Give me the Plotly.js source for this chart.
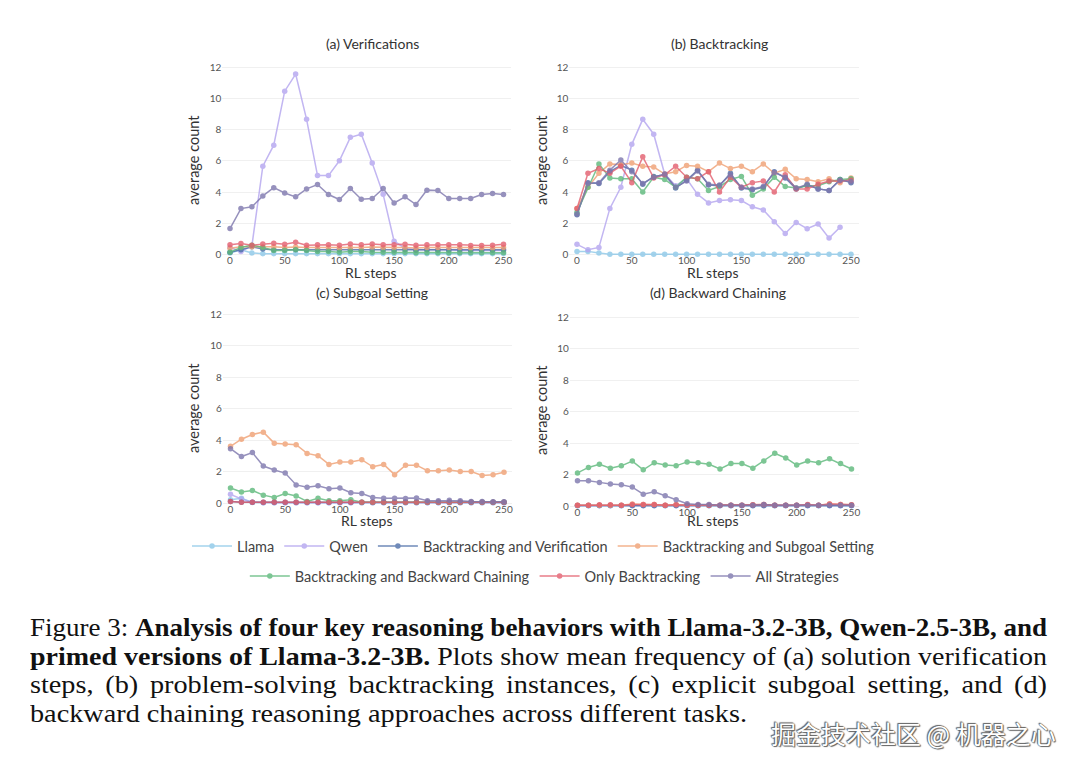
<!DOCTYPE html>
<html>
<head>
<meta charset="utf-8">
<script src="https://cdn.plot.ly/plotly-3.0.1.min.js"></script>
<style>
  html, body { margin: 0; padding: 0; background: #fff; }
  #wrap { position: relative; width: 1080px; height: 766px; overflow: hidden; }
  #chart { position: absolute; left: 0; top: 0; width: 1080px; height: 766px; }
  #caption { position: absolute; left: 30px; top: 614px; font-family: "Liberation Serif", serif; font-size: 25px; color: #111; }
  #caption .ln { position: relative; height: 28.5px; line-height: 28.5px; white-space: nowrap; }
  #caption .ln span { display: inline-block; transform-origin: 0 50%; white-space: nowrap; }
  #caption b { font-weight: bold; }
  #wm { position: absolute; left: 771px; top: 715px; font-family: "Noto Sans CJK SC", sans-serif; font-size: 25px; color: #fff; white-space: nowrap;
        text-shadow: 0 0 1px #555, 0 0 1px #555, 1px 1px 1px #666, -1px -1px 1px #666; }
</style>
</head>
<body>
<div id="wrap">
  <div id="chart"></div>
  <div id="caption">
    <div class="ln" data-w="1017"><span>Figure 3: <b>Analysis of four key reasoning behaviors with Llama-3.2-3B, Qwen-2.5-3B, and</b></span></div>
    <div class="ln" data-w="1017"><span><b>primed versions of Llama-3.2-3B.</b> Plots show mean frequency of (a) solution verification</span></div>
    <div class="ln" data-w="1017"><span>steps, (b) problem-solving backtracking instances, (c) explicit subgoal setting, and (d)</span></div>
    <div class="ln" data-w="717"><span>backward chaining reasoning approaches across different tasks.</span></div>
  </div>
  <div id="wm">掘金技术社区 @ 机器之心</div>
</div>
<script>
// ---------------- DATA ----------------
const steps = [0,10,20,30,40,50,60,70,80,90,100,110,120,130,140,150,160,170,180,190,200,210,220,230,240,250];

const seriesNames = ["Llama","Qwen","Backtracking and Verification","Backtracking and Subgoal Setting",
                     "Backtracking and Backward Chaining","Only Backtracking","All Strategies"];
const seriesColors = ["#8cc8e8","#b3a4ef","#4d6ea8","#f0a073","#5cb87a","#e35d6d","#7d76ad"];

const panelTitles = ["(a) Verifications","(b) Backtracking","(c) Subgoal Setting","(d) Backward Chaining"];
const xAxisLabel = "RL steps";
const yAxisLabel = "average count";
const yTickVals = [0,2,4,6,8,10,12];
const xTickVals = [0,50,100,150,200,250];

// (a) Verifications
const verif_llama = [0.1,0.3,0.1,0.05,0.05,0.05,0.05,0.05,0.05,0.05,0.05,0.05,0.05,0.05,0.05,0.05,0.05,0.05,0.05,0.05,0.05,0.05,0.05,0.05,0.05,0.05];
const verif_qwen  = [0.45,0.2,0.55,5.65,7.0,10.45,11.55,8.65,5.05,5.05,6.0,7.5,7.7,5.85,3.85,0.85,0.4,0.3,0.3,0.3,0.3,0.25,0.25,0.25,0.25,0.25];
const verif_bv    = [0.15,0.3,0.5,0.35,0.3,0.3,0.32,0.3,0.3,0.28,0.3,0.3,0.28,0.3,0.3,0.28,0.3,0.28,0.3,0.28,0.28,0.3,0.28,0.28,0.28,0.3];
const verif_bs    = [0.4,0.5,0.5,0.5,0.5,0.45,0.48,0.45,0.45,0.45,0.42,0.45,0.45,0.48,0.45,0.45,0.45,0.42,0.45,0.45,0.45,0.45,0.42,0.42,0.42,0.45];
const verif_bbc   = [0.15,0.45,0.6,0.45,0.25,0.25,0.3,0.25,0.2,0.2,0.15,0.2,0.2,0.15,0.15,0.15,0.15,0.12,0.12,0.12,0.12,0.12,0.12,0.12,0.12,0.12];
const verif_ob    = [0.62,0.7,0.6,0.68,0.72,0.65,0.78,0.6,0.62,0.62,0.6,0.68,0.62,0.68,0.62,0.62,0.65,0.6,0.62,0.62,0.62,0.62,0.58,0.58,0.6,0.65];
const verif_all   = [1.66,2.94,3.05,3.75,4.28,3.94,3.69,4.2,4.48,3.84,3.52,4.22,3.54,3.58,4.22,3.3,3.69,3.2,4.12,4.1,3.58,3.58,3.58,3.84,3.9,3.84];

// (b) Backtracking
const back_llama = [0.2,0.2,0.1,0.02,0.02,0.02,0.02,0.02,0.02,0.02,0.02,0.02,0.02,0.02,0.02,0.02,0.02,0.02,0.02,0.02,0.02,0.02,0.02,0.02,0.02,0.02];
const back_qwen  = [0.65,0.3,0.45,2.95,4.3,7.05,8.65,7.7,5.15,4.4,4.85,3.85,3.3,3.45,3.5,3.45,3.05,2.85,2.1,1.35,2.05,1.65,1.95,1.05,1.75,null];
const back_bv    = [2.55,4.6,4.55,5.3,5.7,5.4,4.5,5.0,5.1,4.25,4.75,5.4,4.45,4.4,5.2,4.25,4.15,4.3,5.3,4.9,4.2,4.45,4.2,4.1,4.8,4.6];
const back_bs    = [2.95,4.3,5.2,5.8,5.75,5.85,5.65,5.6,5.15,5.3,5.7,5.65,5.3,5.85,5.5,5.65,5.3,5.8,5.2,5.45,4.85,4.8,4.65,4.85,4.6,4.9];
const back_bbc   = [2.7,4.3,5.8,4.9,4.85,4.85,4.0,4.95,4.8,4.3,4.95,4.85,4.1,4.35,4.8,5.0,3.8,4.2,4.95,4.35,4.25,4.4,4.4,4.65,4.8,4.85];
const back_ob    = [2.95,5.2,5.5,5.2,5.65,4.6,6.25,4.9,5.1,5.65,4.95,4.85,5.3,4.0,4.95,4.3,4.6,4.7,4.0,5.1,4.2,4.2,4.5,4.7,4.7,4.75];
const back_all   = [2.6,4.55,4.6,5.4,6.05,5.3,4.55,4.95,5.15,4.3,4.7,5.35,4.5,4.45,5.1,4.3,4.2,4.35,5.25,4.95,4.25,4.5,4.2,4.1,4.75,4.65];

// (c) Subgoal Setting
const sub_llama = [0.2,0.3,0.03,0.02,0.02,0.02,0.02,0.02,0.02,0.02,0.02,0.02,0.02,0.02,0.02,0.02,0.02,0.02,0.02,0.02,0.02,0.02,0.02,0.02,0.02,0.02];
const sub_qwen  = [0.55,0.25,0.05,0.02,0.02,0.02,0.02,0.02,0.02,0.02,0.02,0.02,0.02,0.02,0.02,0.02,0.02,0.02,0.02,0.02,0.02,0.02,0.02,0.02,0.02,0.02];
const sub_bv    = [0.1,0.05,0.05,0.05,0.05,0.05,0.05,0.05,0.05,0.05,0.05,0.05,0.05,0.05,0.05,0.05,0.05,0.05,0.05,0.05,0.05,0.05,0.05,0.05,0.05,0.05];
const sub_bs    = [3.6,4.05,4.35,4.5,3.8,3.75,3.7,3.15,3.0,2.45,2.6,2.6,2.75,2.3,2.45,1.8,2.4,2.4,2.05,2.05,2.1,2.0,2.0,1.75,1.8,1.95];
const sub_bbc   = [0.95,0.7,0.8,0.5,0.35,0.6,0.45,0.1,0.3,0.15,0.15,0.2,0.05,0.05,0.05,0.05,0.05,0.05,0.05,0.05,0.05,0.05,0.05,0.05,0.05,0.05];
const sub_ob    = [0.1,0.05,0.05,0.05,0.05,0.05,0.05,0.05,0.05,0.05,0.05,0.05,0.05,0.05,0.05,0.05,0.05,0.05,0.05,0.05,0.05,0.05,0.05,0.05,0.05,0.05];
const sub_all   = [3.45,2.95,3.2,2.35,2.1,1.9,1.15,1.0,1.1,0.9,0.95,0.65,0.6,0.35,0.3,0.3,0.28,0.32,0.15,0.15,0.18,0.15,0.1,0.1,0.08,0.08];

// (d) Backward Chaining
const bc_llama = [0.02,0.02,0.02,0.02,0.02,0.02,0.02,0.02,0.02,0.02,0.02,0.02,0.02,0.02,0.02,0.02,0.02,0.02,0.02,0.02,0.02,0.02,0.02,0.02,0.02,0.02];
const bc_qwen  = [0.03,0.03,0.03,0.03,0.03,0.03,0.03,0.03,0.03,0.03,0.03,0.03,0.03,0.03,0.03,0.03,0.03,0.03,0.03,0.03,0.03,0.03,0.03,0.03,0.03,0.03];
const bc_bv    = [0.03,0.03,0.03,0.03,0.03,0.03,0.03,0.03,0.03,0.03,0.03,0.03,0.03,0.03,0.03,0.03,0.03,0.03,0.03,0.03,0.03,0.03,0.03,0.03,0.03,0.03];
const bc_bs    = [0.05,0.05,0.05,0.05,0.05,0.12,0.1,0.1,0.05,0.1,0.05,0.05,0.05,0.05,0.05,0.05,0.08,0.1,0.05,0.05,0.05,0.08,0.05,0.12,0.1,0.08];
const bc_bbc   = [2.1,2.45,2.65,2.4,2.55,2.85,2.3,2.75,2.6,2.55,2.8,2.75,2.65,2.35,2.7,2.7,2.4,2.85,3.35,3.05,2.6,2.85,2.75,3.0,2.7,2.35];
const bc_ob    = [0.05,0.05,0.08,0.08,0.05,0.1,0.1,0.1,0.05,0.08,0.05,0.05,0.05,0.05,0.05,0.05,0.08,0.1,0.05,0.05,0.05,0.1,0.05,0.12,0.1,0.08];
const bc_all   = [1.6,1.6,1.5,1.4,1.35,1.2,0.75,0.9,0.65,0.4,0.15,0.1,0.1,0.05,0.05,0.05,0.05,0.1,0.05,0.05,0.05,0.05,0.05,0.05,0.05,0.05];

const panelData = [
  [verif_llama, verif_qwen, verif_bv, verif_bs, verif_bbc, verif_ob, verif_all],
  [back_llama, back_qwen, back_bv, back_bs, back_bbc, back_ob, back_all],
  [sub_llama, sub_qwen, sub_bv, sub_bs, sub_bbc, sub_ob, sub_all],
  [bc_llama, bc_qwen, bc_bv, bc_bs, bc_bbc, bc_ob, bc_all]
];

// ---------------- LAYOUT ----------------
const W = 1080, H = 766;
const FONT = "Lato, 'Open Sans', sans-serif";
// pixel position of y=0 and y=12 for each panel, and x=0 / x=250
const yPix = [[254.5, 67], [254.5, 67], [503, 314], [506, 317]];
const xPix = [[230, 503.5], [577, 851], [230.5, 504], [577.5, 851.5]];
const yRange = [-0.12, 12.4];
const xRange = [-7, 257];
const titlePos = [[372, 44], [719, 44], [372, 292], [718, 292]];
const xLabelPos = [[370, 273], [712, 273], [366, 520], [712, 520]];
const yLabelPos = [[193, 160], [541, 160], [193, 408], [541, 410]];

const traces = [];
panelData.forEach((series, p) => {
  const ax = p === 0 ? "" : String(p + 1);
  series.forEach((vals, s) => {
    traces.push({
      type: "scatter", mode: "lines+markers",
      x: steps, y: vals,
      name: seriesNames[s],
      xaxis: "x" + ax, yaxis: "y" + ax,
      line: { color: seriesColors[s], width: 1.5 },
      marker: { color: seriesColors[s], size: 5.5 },
      opacity: 0.8,
      cliponaxis: false,
      showlegend: p === 0,
      legend: s < 4 ? "legend" : "legend2",
      connectgaps: false,
      hoverinfo: "skip"
    });
  });
});

const legendFont = { family: FONT, size: 14.5, color: "#444" };
const layout = {
  width: W, height: H,
  margin: { l: 0, r: 0, t: 0, b: 0 },
  paper_bgcolor: "#fff", plot_bgcolor: "#fff",
  font: { family: FONT, color: "#444", size: 10 },
  annotations: [],
  legend: {
    orientation: "h", x: 0.494, xanchor: "center", y: (H - 546) / H, yanchor: "middle",
    font: legendFont, bgcolor: "rgba(0,0,0,0)", itemwidth: 40
  },
  legend2: {
    orientation: "h", x: 0.504, xanchor: "center", y: (H - 576) / H, yanchor: "middle",
    font: legendFont, bgcolor: "rgba(0,0,0,0)", itemwidth: 40
  }
};

for (let p = 0; p < 4; p++) {
  const ax = p === 0 ? "" : String(p + 1);
  const [x0p, x250p] = xPix[p];
  const kx = (x250p - x0p) / 250;
  const left = x0p + xRange[0] * kx, right = x0p + xRange[1] * kx;
  const [y0p, y12p] = yPix[p];
  const ky = (y0p - y12p) / 12;
  const bottom = y0p - yRange[0] * ky, top = y0p - yRange[1] * ky;
  layout["xaxis" + ax] = {
    domain: [left / W, right / W],
    anchor: "y" + ax,
    range: xRange,
    tickvals: xTickVals,
    showgrid: false, zeroline: false, showline: false, ticks: "",
    ticklabelstandoff: -3,
    tickfont: { family: FONT, size: 10, color: "#555" }
  };
  layout["yaxis" + ax] = {
    domain: [(H - bottom) / H, (H - top) / H],
    anchor: "x" + ax,
    range: yRange,
    tickvals: yTickVals,
    showgrid: true, gridcolor: "#f0f0f0", gridwidth: 1,
    zeroline: false, showline: false, ticks: "",
    tickfont: { family: FONT, size: 10, color: "#555" }
  };
  layout.annotations.push({
    text: panelTitles[p], xref: "paper", yref: "paper",
    x: titlePos[p][0] / W, y: (H - titlePos[p][1]) / H,
    xanchor: "center", yanchor: "middle", showarrow: false,
    font: { family: FONT, size: 14, color: "#333" }
  });
  layout.annotations.push({
    text: xAxisLabel, xref: "paper", yref: "paper",
    x: xLabelPos[p][0] / W, y: (H - xLabelPos[p][1]) / H,
    xanchor: "center", yanchor: "middle", showarrow: false,
    font: { family: FONT, size: 14, color: "#333" }
  });
  layout.annotations.push({
    text: yAxisLabel, xref: "paper", yref: "paper", textangle: -90,
    x: yLabelPos[p][0] / W, y: (H - yLabelPos[p][1]) / H,
    xanchor: "center", yanchor: "middle", showarrow: false,
    font: { family: FONT, size: 14.5, color: "#333" }
  });
}

Plotly.newPlot("chart", traces, layout, { displayModeBar: false, staticPlot: true });

// Fit caption lines: condensed serif, each justified line spans its target width
(function fitCaption() {
  const lines = document.querySelectorAll("#caption .ln");
  const lastSpan = lines[lines.length - 1].querySelector("span");
  const baseScale = 717 / lastSpan.getBoundingClientRect().width;
  lines.forEach((ln) => {
    const target = parseFloat(ln.dataset.w);
    const span = ln.querySelector("span");
    const w = span.getBoundingClientRect().width;
    const nWords = span.textContent.trim().split(/\s+/).length;
    let sx = baseScale;
    if (w * sx > target) sx = target / w;
    const extra = (target / sx - w) / Math.max(1, nWords - 1);
    if (extra > 0.01) span.style.wordSpacing = extra + "px";
    span.style.transform = "scaleX(" + sx + ")";
  });
})();
</script>
</body>
</html>
